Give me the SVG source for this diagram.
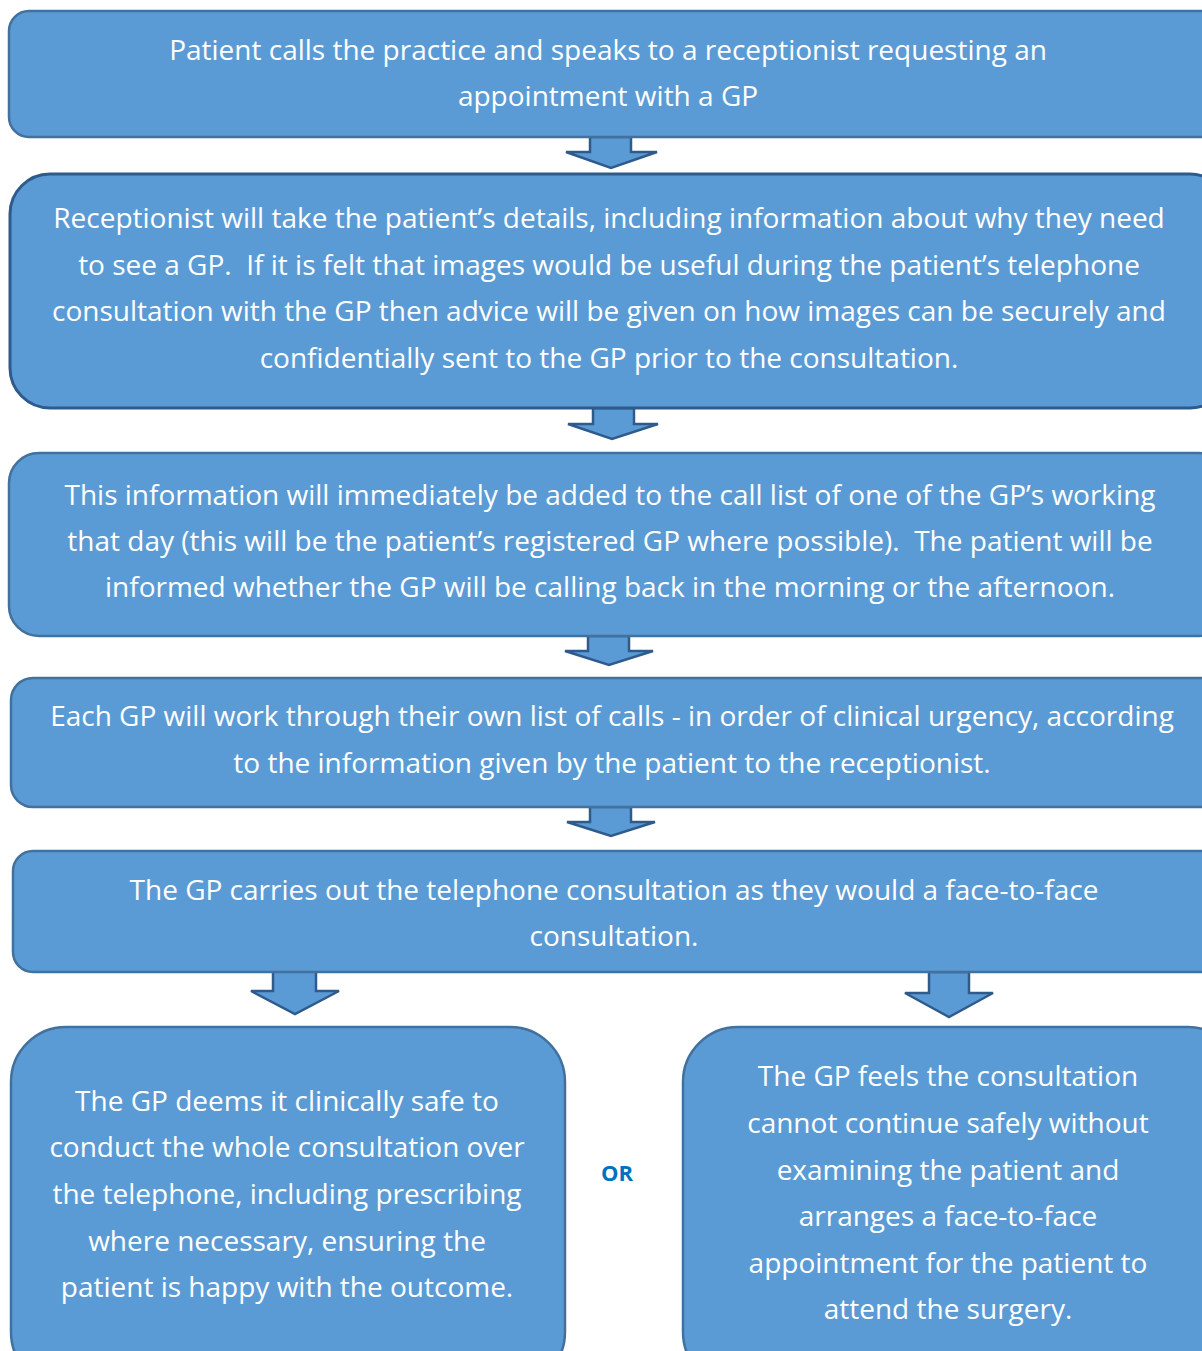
<svg xmlns="http://www.w3.org/2000/svg" width="1202" height="1351" viewBox="0 0 1202 1351">
<style>
.box{fill:#5b9bd5;stroke:#41719c;stroke-width:2.5}
.box2{fill:#5b9bd5;stroke:#2f5b8c;stroke-width:3}
.arr{fill:#5b9bd5;stroke:#2f5b8c;stroke-width:2.5;stroke-linejoin:miter}
.t{font-family:"Open Sans","Noto Sans",sans-serif;font-size:28px;fill:#ffffff;text-anchor:middle;white-space:pre}
.or{font-family:"Open Sans","Noto Sans",sans-serif;font-size:22px;font-weight:bold;fill:#0070c0;text-anchor:middle}
</style>
<rect width="1202" height="1351" fill="#ffffff"/>
<g id="connectors">
<polygon class="arr" points="590,137 631,137 631,152 657,152 611,168 566,152 590,152"/>
<polygon class="arr" points="593,408 634,408 634,424 658,424 612,439 568,424 593,424"/>
<polygon class="arr" points="588,636 629,636 629,651 653,651 609,665 565,651 588,651"/>
<polygon class="arr" points="590,807 631,807 631,822 655,822 611,836 567,822 590,822"/>
<polygon class="arr" points="273,970 316,970 316,991 339,991 295,1014 251,991 273,991"/>
<polygon class="arr" points="929,972 969,972 969,993 993,993 949,1017 905,993 929,993"/>
</g>
<g id="n1">
<rect class="box" x="9" y="11" width="1215" height="126" rx="20"/>
<text class="t" x="608" y="60">Patient calls the practice and speaks to a receptionist requesting an</text>
<text class="t" x="608" y="106">appointment with a GP</text>
</g>
<g id="n2">
<rect class="box2" x="10" y="174" width="1220" height="234" rx="40"/>
<text class="t" x="609" y="228">Receptionist will take the patient’s details, including information about why they need</text>
<text class="t" x="609" y="275">to see a GP.  If it is felt that images would be useful during the patient’s telephone</text>
<text class="t" x="609" y="321">consultation with the GP then advice will be given on how images can be securely and</text>
<text class="t" x="609" y="368">confidentially sent to the GP prior to the consultation.</text>
</g>
<g id="n3">
<rect class="box" x="9" y="453" width="1220" height="183" rx="30"/>
<text class="t" x="610" y="505">This information will immediately be added to the call list of one of the GP’s working</text>
<text class="t" x="610" y="551">that day (this will be the patient’s registered GP where possible).  The patient will be</text>
<text class="t" x="610" y="597">informed whether the GP will be calling back in the morning or the afternoon.</text>
</g>
<g id="n4">
<rect class="box" x="11" y="678" width="1220" height="129" rx="22"/>
<text class="t" x="612" y="726">Each GP will work through their own list of calls - in order of clinical urgency, according</text>
<text class="t" x="612" y="773">to the information given by the patient to the receptionist.</text>
</g>
<g id="n5">
<rect class="box" x="13" y="851" width="1220" height="121" rx="20"/>
<text class="t" x="614" y="900">The GP carries out the telephone consultation as they would a face-to-face</text>
<text class="t" x="614" y="946">consultation.</text>
</g>
<g id="n6">
<rect class="box" x="11" y="1027" width="554" height="360" rx="55"/>
<text class="t" x="287" y="1111">The GP deems it clinically safe to</text>
<text class="t" x="287" y="1157">conduct the whole consultation over</text>
<text class="t" x="287" y="1204">the telephone, including prescribing</text>
<text class="t" x="287" y="1251">where necessary, ensuring the</text>
<text class="t" x="287" y="1297">patient is happy with the outcome.</text>
</g>
<g id="n7">
<rect class="box" x="683" y="1027" width="560" height="360" rx="55"/>
<text class="t" x="948" y="1086">The GP feels the consultation</text>
<text class="t" x="948" y="1133">cannot continue safely without</text>
<text class="t" x="948" y="1180">examining the patient and</text>
<text class="t" x="948" y="1226">arranges a face-to-face</text>
<text class="t" x="948" y="1273">appointment for the patient to</text>
<text class="t" x="948" y="1319">attend the surgery.</text>
</g>
<text class="or" x="617" y="1181">OR</text>
</svg>
